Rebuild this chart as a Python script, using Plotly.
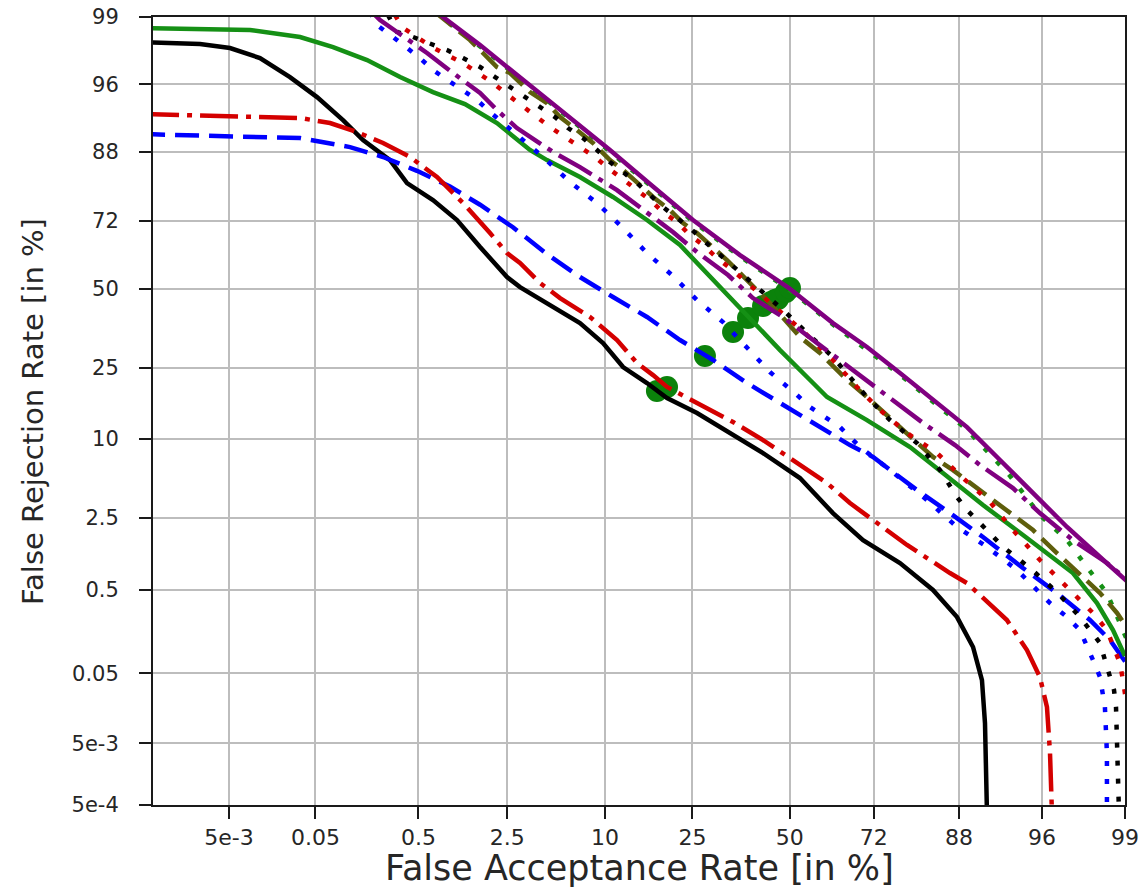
from statistics import NormalDist
import plotly.graph_objects as go

_nd = NormalDist()


def probit(pct):
    return _nd.inv_cdf(pct / 100.0)


# ---- tick labels (percent) ----
x_tick_labels = ["5e-3", "0.05", "0.5", "2.5", "10", "25", "50", "72", "88", "96", "99"]
x_tick_pct = [0.005, 0.05, 0.5, 2.5, 10, 25, 50, 72, 88, 96, 99]
y_tick_labels = ["5e-4", "5e-3", "0.05", "0.5", "2.5", "10", "25", "50", "72", "88", "96", "99"]
y_tick_pct = [0.0005, 0.005, 0.05, 0.5, 2.5, 10, 25, 50, 72, 88, 96, 99]
axis_min_pct = 0.0005
axis_max_pct = 99

# ---- DET curves, values in normal-deviate (probit) units ----
black_solid_far = [-4.5, -4.091, -3.883, -3.675, -3.467, -3.279, -3.099, -2.960, -2.773, -2.655, -2.475,
                   -2.308, -2.148, -1.961, -1.871, -1.684, -1.455, -1.295, -1.156, -0.990, -0.851, -0.643,
                   -0.414, -0.185, 0.071, 0.300, 0.509, 0.765, 0.994, 1.161, 1.272, 1.334, 1.355, 1.369]
black_solid_frr = [2.112, 2.095, 2.061, 1.975, 1.812, 1.641, 1.444, 1.273, 1.102, 0.905, 0.760,
                   0.589, 0.358, 0.101, 0.015, -0.122, -0.293, -0.464, -0.669, -0.806, -0.934, -1.063,
                   -1.234, -1.405, -1.619, -1.919, -2.150, -2.346, -2.577, -2.809, -3.065, -3.348, -3.716, -4.5]

red_dashdot_far = [-4.5, -3.744, -3.397, -3.189, -3.002, -2.821, -2.634, -2.447, -2.266, -2.079, -1.961,
                   -1.871, -1.732, -1.593, -1.385, -1.198, -1.059, -0.948, -0.851, -0.643, -0.393, -0.185,
                   0.023, 0.259, 0.418, 0.814, 1.112, 1.230, 1.507, 1.646, 1.736, 1.785, 1.806, 1.820]
red_dashdot_frr = [1.496, 1.479, 1.462, 1.419, 1.342, 1.248, 1.128, 0.957, 0.734, 0.477, 0.306,
                   0.221, 0.050, -0.079, -0.241, -0.438, -0.635, -0.738, -0.840, -0.977, -1.140, -1.294,
                   -1.465, -1.662, -1.833, -2.192, -2.432, -2.518, -2.834, -3.091, -3.322, -3.579, -3.972, -4.5]

blue_dashed_far = [-4.5, -3.744, -3.397, -3.050, -2.821, -2.586, -2.357, -2.148, -1.920, -1.684, -1.455,
                   -1.226, -0.990, -0.761, -0.532, -0.296, -0.067, 0.162, 0.418, 0.578, 0.883, 1.112,
                   1.341, 1.618, 1.854, 2.083, 2.222, 2.305, 2.361]
blue_dashed_frr = [1.325, 1.307, 1.290, 1.213, 1.128, 1.010, 0.875, 0.720, 0.527, 0.298, 0.101,
                   -0.070, -0.241, -0.438, -0.609, -0.806, -0.977, -1.148, -1.337, -1.439, -1.722, -1.919,
                   -2.124, -2.389, -2.603, -2.834, -3.005, -3.151, -3.245]

green_solid_far = [-4.5, -3.744, -3.397, -3.168, -2.932, -2.703, -2.475, -2.253, -2.031, -1.802, -1.684,
                   -1.455, -1.226, -0.990, -0.761, -0.532, -0.296, -0.067, 0.141, 0.259, 0.536, 0.835,
                   1.063, 1.341, 1.646, 1.965, 2.132, 2.243, 2.326]
green_solid_frr = [2.232, 2.215, 2.155, 2.069, 1.958, 1.812, 1.684, 1.581, 1.419, 1.188, 1.102,
                   0.957, 0.786, 0.589, 0.375, 0.075, -0.224, -0.524, -0.780, -0.926, -1.123, -1.354,
                   -1.576, -1.850, -2.132, -2.432, -2.689, -2.920, -3.142]

blue_dotted_far = [-2.912, -2.863, -2.752, -2.655, -2.565, -2.475, -2.370, -2.266, -2.169, -2.079, -1.989,
                   -1.892, -1.802, -1.711, -1.524, -1.337, -1.156, -0.990, -0.817, -0.643, -0.463, -0.296,
                   -0.137, 0.051, 0.141, 0.349, 0.488, 0.696, 0.952, 1.161, 1.369, 1.577, 1.806, 1.924,
                   2.014, 2.104, 2.153, 2.187, 2.201, 2.201]
blue_dotted_frr = [2.369, 2.257, 2.155, 2.061, 1.975, 1.872, 1.787, 1.701, 1.616, 1.513, 1.419,
                   1.316, 1.213, 1.128, 0.914, 0.734, 0.520, 0.306, 0.118, -0.096, -0.284, -0.498,
                   -0.712, -0.909, -1.011, -1.183, -1.354, -1.551, -1.807, -2.038, -2.209, -2.406, -2.689, -2.809,
                   -2.920, -3.176, -3.322, -3.579, -3.972, -4.5]

black_dotted_far = [-2.787, -2.724, -2.613, -2.495, -2.377, -2.266, -2.148, -2.044, -1.940, -1.836, -1.732,
                    -1.628, -1.538, -1.434, -1.337, -1.247, -1.156, -1.059, -0.969, -0.879, -0.782, -0.692,
                    -0.601, -0.504, -0.414, -0.324, -0.227, -0.046, 0.120, 0.300, 0.536, 0.696, 0.883,
                    1.043, 1.161, 1.230, 1.320, 1.480, 1.667, 1.854, 2.014, 2.083, 2.153, 2.187, 2.222,
                    2.250, 2.264, 2.271, 2.278, 2.285]
black_dotted_frr = [2.343, 2.198, 2.155, 2.103, 2.043, 1.975, 1.898, 1.812, 1.727, 1.641, 1.556,
                    1.470, 1.376, 1.290, 1.188, 1.085, 0.999, 0.905, 0.803, 0.700, 0.606, 0.520,
                    0.418, 0.315, 0.221, 0.118, 0.015, -0.181, -0.378, -0.584, -0.926, -1.123, -1.320,
                    -1.551, -1.782, -1.893, -2.004, -2.209, -2.389, -2.595, -2.809, -2.920, -3.031, -3.176, -3.305,
                    -3.433, -3.579, -3.835, -4.118, -4.5]

red_dotted_far = [-2.738, -2.690, -2.586, -2.481, -2.377, -2.266, -2.162, -2.058, -1.954, -1.857, -1.753,
                  -1.663, -1.559, -1.455, -1.351, -1.260, -1.163, -1.059, -0.969, -0.879, -0.782, -0.692,
                  -0.601, -0.504, -0.414, -0.137, 0.106, 0.300, 0.467, 0.626, 0.814, 1.022, 1.202,
                  1.390, 1.549, 1.736, 1.924, 2.104, 2.201, 2.243, 2.291, 2.312, 2.333]
red_dotted_frr = [2.343, 2.240, 2.155, 2.069, 2.001, 1.932, 1.847, 1.761, 1.658, 1.564, 1.470,
                  1.385, 1.299, 1.213, 1.128, 1.034, 0.948, 0.845, 0.760, 0.657, 0.572, 0.460,
                  0.375, 0.264, 0.178, -0.122, -0.378, -0.609, -0.840, -1.037, -1.234, -1.405, -1.619,
                  -1.824, -2.064, -2.321, -2.552, -2.774, -2.920, -3.065, -3.202, -3.348, -3.519]

olive_dashed_far = [-2.461, -2.308, -2.218, -2.128, -2.031, -1.940, -1.802, -1.684, -1.593, -1.476, -1.365,
                    -1.247, -1.156, -1.038, -0.948, -0.830, -0.740, -0.643, -0.532, -0.435, -0.345, -0.137,
                    0.071, 0.210, 0.398, 0.536, 0.765, 0.994, 1.133, 1.341, 1.507, 1.688, 1.854, 2.035,
                    2.153, 2.271, 2.326, 2.361]
olive_dashed_frr = [2.369, 2.215, 2.129, 2.018, 1.898, 1.847, 1.684, 1.590, 1.470, 1.359, 1.248,
                    1.102, 1.017, 0.888, 0.786, 0.674, 0.563, 0.477, 0.358, 0.246, 0.135, -0.122,
                    -0.412, -0.549, -0.780, -0.926, -1.183, -1.439, -1.551, -1.747, -1.893, -2.064, -2.261, -2.466,
                    -2.603, -2.774, -2.877, -2.937]

purple_dashdot_far = [-2.898, -2.842, -2.724, -2.516, -2.336, -2.148, -2.031, -1.892, -1.642, -1.455, -1.198,
                      -1.038, -0.810, -0.643, -0.428, -0.255, -0.046, 0.071, 0.349, 0.536, 0.751, 0.925,
                      1.147, 1.320, 1.549, 1.736, 1.965, 2.201, 2.326, 2.361]
purple_dashdot_frr = [2.369, 2.300, 2.198, 2.018, 1.847, 1.676, 1.530, 1.376, 1.171, 1.042, 0.845,
                      0.700, 0.486, 0.315, 0.118, -0.079, -0.241, -0.353, -0.609, -0.780, -0.977, -1.148,
                      -1.337, -1.508, -1.705, -1.919, -2.150, -2.346, -2.475, -2.509]

purple_solid_far = [-2.461, -2.405, -2.148, -1.802, -1.524, -1.247, -0.969, -0.671, -0.345, -0.005,
                    0.300, 0.536, 0.765, 0.994, 1.230, 1.459, 1.688, 1.924, 2.153, 2.326, 2.361]
purple_solid_frr = [2.386, 2.326, 2.086, 1.744, 1.470, 1.188, 0.897, 0.589, 0.289, 0.007,
                    -0.293, -0.498, -0.721, -0.952, -1.183, -1.465, -1.747, -2.038, -2.295, -2.492, -2.526]

green_dotted_far = [-2.461, -2.148, -1.802, -1.524, -1.247, -0.969, -0.671, -0.345, -0.005, 0.300, 0.765,
                    1.230, 1.528, 1.736, 1.924, 2.062, 2.201, 2.291, 2.340]
green_dotted_frr = [2.370, 2.074, 1.732, 1.458, 1.176, 0.885, 0.577, 0.277, -0.005, -0.305, -0.735,
                    -1.205, -1.600, -1.936, -2.150, -2.381, -2.603, -2.860, -3.005]

# equal-error-rate operating points (normal-deviate units)
eer_far = [-0.921, -0.851, -0.588, -0.393, -0.289, -0.185, -0.130, -0.102, -0.081, -0.026, 0.002]
eer_frr = [-0.875, -0.840, -0.575, -0.370, -0.250, -0.147, -0.113, -0.096, -0.087, -0.027, 0.007]

# ---- styles ----
BLACK = "#000000"
RED = "#d40000"
BLUE = "#0000ff"
GREEN = "#159015"
PURPLE = "#800080"
OLIVE = "#5e5e0c"
LW = 4.5
DOT = "5px,13px"
DASH = "24px,10px"
DASHDOT = "38px,8px,5px,8px"

curves = [
    (black_solid_far, black_solid_frr, BLACK, "solid"),
    (blue_dashed_far, blue_dashed_frr, BLUE, DASH),
    (red_dashdot_far, red_dashdot_frr, RED, DASHDOT),
    (green_solid_far, green_solid_frr, GREEN, "solid"),
    (blue_dotted_far, blue_dotted_frr, BLUE, DOT),
    (green_dotted_far, green_dotted_frr, GREEN, DOT),
    (olive_dashed_far, olive_dashed_frr, OLIVE, "22px,9px"),
    (red_dotted_far, red_dotted_frr, RED, DOT),
    (black_dotted_far, black_dotted_frr, BLACK, DOT),
    (purple_dashdot_far, purple_dashdot_frr, PURPLE, DASHDOT),
    (purple_solid_far, purple_solid_frr, PURPLE, "solid"),
]

fig = go.Figure()
fig.add_trace(go.Scatter(x=eer_far, y=eer_frr, mode="markers",
                         marker=dict(size=22, color="#0b820b"), showlegend=False,
                         cliponaxis=True))
for xs, ys, col, dash in curves:
    fig.add_trace(go.Scatter(x=xs, y=ys, mode="lines",
                             line=dict(color=col, width=LW, dash=dash),
                             showlegend=False))

x_range = [probit(axis_min_pct), probit(axis_max_pct) + 1e-6]
y_range = [probit(axis_min_pct) - 1e-6, probit(axis_max_pct)]

axis_common = dict(
    showgrid=True, gridcolor="#bdbdbd", gridwidth=2,
    zeroline=False, showline=True, linecolor="#1a1a1a", linewidth=2, mirror=True,
    ticks="outside", ticklen=12, tickwidth=2, tickcolor="#1a1a1a",
    tickfont=dict(family="DejaVu Sans", size=22, color="#262626"),
    automargin=False,
)

fig.update_xaxes(range=x_range, tickmode="array",
                 tickvals=[probit(p) for p in x_tick_pct], ticktext=x_tick_labels,
                 ticklabelstandoff=0, **axis_common)
fig.update_yaxes(range=y_range, tickmode="array",
                 tickvals=[probit(p) for p in y_tick_pct], ticktext=y_tick_labels,
                 ticklabelstandoff=16, tickfont=dict(family="DejaVu Sans", size=21, color="#262626"),
                 **{k: v for k, v in axis_common.items() if k != "tickfont"})

fig.add_annotation(text="False Acceptance Rate [in %]", xref="paper", yref="paper",
                   x=0.5, y=-0.080, xanchor="center", yanchor="middle", showarrow=False,
                   font=dict(family="DejaVu Sans", size=35, color="#262626"))
fig.add_annotation(text="False Rejection Rate [in %]", xref="paper", yref="paper",
                   x=-0.1235, y=0.5, xanchor="center", yanchor="middle", showarrow=False,
                   textangle=-90,
                   font=dict(family="DejaVu Sans", size=29, color="#262626"))

fig.update_layout(width=1143, height=890,
                  margin=dict(l=153, r=18, t=17, b=85),
                  plot_bgcolor="white", paper_bgcolor="white")

fig.write_html("out.html")
